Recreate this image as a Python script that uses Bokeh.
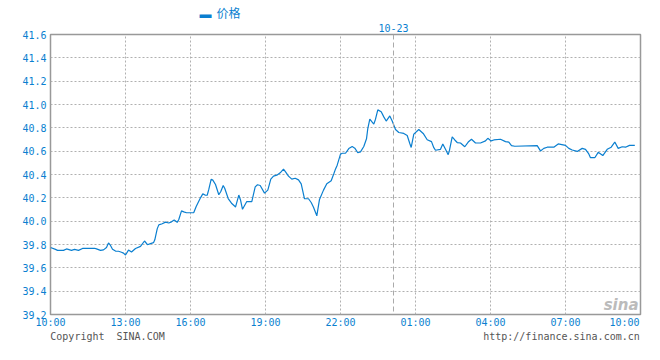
from bokeh.plotting import figure
from bokeh.models import (FixedTicker, PrintfTickFormatter, Span, Label,
                          ColumnDataSource, LinearAxis)
from bokeh.embed import file_html
from bokeh.resources import INLINE

# ---- data (x = session slot index, 10:00 .. next-day 10:00) ----
x_slot = [0, 5, 7, 13, 16, 21, 24, 28, 32, 44, 46, 50, 53, 56, 58, 60, 62, 65, 68, 71,
          73, 75, 78, 81, 85, 90, 94, 97, 100, 103, 104.3, 106.7, 108.3, 111.7, 115, 118.3,
          121, 123.7, 126.7, 128.3, 131, 133.3, 136, 143.3, 145.7, 150, 152.3, 155, 156.7,
          158.3, 160.7, 162.3, 165, 168.3, 170.3, 172.7, 174.3, 177.7, 181, 184.3, 185,
          188.3, 190, 192, 196.3, 201.3, 204.7, 207, 209.7, 214, 217.3, 220.3, 223, 226.3,
          229.7, 233, 234.7, 238, 241.3, 244.7, 248, 250.7, 254, 258, 260.7, 263, 266.3,
          269, 273, 276.3, 280.7, 283.3, 284.7, 286.7, 290, 291.7, 295, 298.3, 301.7,
          304.3, 307.3, 310, 313.3, 316, 317.3, 319.3, 321.7, 323.3, 325, 327.3, 330.7,
          333.3, 335.7, 339.3, 341.7, 345, 348.3, 353.3, 356.7, 359.3, 360.7, 363.3, 368.3,
          372.7, 376.7, 381, 383.3, 385, 390, 392.3, 395, 397.7, 399, 401.7, 404.3, 406.7,
          410, 414.3, 417.7, 421, 425, 430, 435, 437.3, 440.7, 443.3, 450, 455, 458.3, 461,
          464.3, 486.7, 490, 493.3, 496.7, 503.3, 507.7, 515, 518.3, 521.7, 526.7, 531.7,
          535, 538.3, 540, 544.3, 547.7, 552.3, 556.7, 560.7, 564.3, 567.7, 571.7, 575,
          579, 584.3]
price = [39.774, 39.758, 39.750, 39.750, 39.762, 39.750, 39.758, 39.750, 39.766, 39.768,
         39.762, 39.750, 39.754, 39.774, 39.814, 39.792, 39.760, 39.744, 39.742, 39.734,
         39.726, 39.710, 39.752, 39.736, 39.766, 39.784, 39.830, 39.798, 39.808, 39.816,
         39.840, 39.934, 39.968, 39.978, 39.992, 39.984, 39.994, 40.010, 39.990, 40.014,
         40.088, 40.080, 40.072, 40.074, 40.126, 40.200, 40.234, 40.222, 40.222, 40.272,
         40.360, 40.352, 40.314, 40.226, 40.254, 40.306, 40.280, 40.194, 40.154, 40.128,
         40.120, 40.224, 40.182, 40.102, 40.168, 40.168, 40.294, 40.312, 40.306, 40.240,
         40.266, 40.360, 40.386, 40.394, 40.414, 40.446, 40.426, 40.386, 40.360, 40.368,
         40.354, 40.320, 40.192, 40.192, 40.160, 40.120, 40.046, 40.186, 40.266, 40.320,
         40.346, 40.406, 40.440, 40.480, 40.574, 40.582, 40.582, 40.622, 40.640, 40.626,
         40.586, 40.594, 40.640, 40.706, 40.794, 40.874, 40.848, 40.832, 40.874, 40.954,
         40.938, 40.894, 40.858, 40.902, 40.858, 40.786, 40.760, 40.752, 40.734, 40.666,
         40.632, 40.746, 40.786, 40.752, 40.698, 40.682, 40.630, 40.608, 40.616, 40.662,
         40.616, 40.570, 40.608, 40.722, 40.696, 40.674, 40.670, 40.638, 40.678, 40.702,
         40.670, 40.670, 40.688, 40.710, 40.688, 40.696, 40.702, 40.682, 40.678, 40.648,
         40.642, 40.648, 40.602, 40.624, 40.634, 40.634, 40.662, 40.650, 40.624, 40.610,
         40.598, 40.624, 40.616, 40.576, 40.544, 40.544, 40.590, 40.562, 40.616, 40.634,
         40.678, 40.624, 40.638, 40.634, 40.650, 40.650]

x_ticks = [0, 75, 140, 215, 290, 365, 440, 515, 590]
x_labels = ["10:00", "13:00", "16:00", "19:00", "22:00", "01:00", "04:00", "07:00", "10:00"]
y_ticks = [39.2, 39.4, 39.6, 39.8, 40.0, 40.2, 40.4, 40.6, 40.8, 41.0, 41.2, 41.4, 41.6]
day_break = 343
day_label = "10-23"
series_name = "价格"
footer_left = "Copyright \u00a0SINA.COM"
footer_right = "http://finance.sina.com.cn"

BLUE = "#0a7fd0"
GREY_TXT = "#555555"
MONO = "DejaVu Sans Mono"
CJK = "Noto Sans CJK SC"
CHAR_W = 6.02          # px per char of 10px DejaVu Sans Mono (1 x-unit == 1 px)

p = figure(width=644, height=344, x_range=(0, 590), y_range=(39.2, 41.6),
           output_backend="svg", toolbar_location=None,
           min_border_left=50, min_border_right=4, min_border_top=0, min_border_bottom=0)
p.background_fill_color = "white"
p.border_fill_color = "white"
p.outline_line_color = "#999999"
p.outline_line_width = 1.5

src = ColumnDataSource(dict(x=x_slot, y=price))
p.line("x", "y", source=src, line_color=BLUE, line_width=1.2)


def style_axis(ax, color, standoff, font=MONO, size="10px", lh=1.0):
    ax.axis_line_color = None
    ax.major_tick_line_color = None
    ax.minor_tick_line_color = None
    ax.major_tick_out = 0
    ax.major_tick_in = 0
    ax.minor_tick_out = 0
    ax.minor_tick_in = 0
    ax.major_label_text_font = font
    ax.major_label_text_font_size = size
    ax.major_label_text_color = color
    ax.major_label_text_line_height = lh
    ax.major_label_standoff = standoff


# main x axis (last label kept inside the frame, right-aligned)
last_pos = round(x_ticks[-1] - len(x_labels[-1]) * CHAR_W / 2 - 1)
tick_pos = x_ticks[:-1] + [last_pos]
p.xaxis.ticker = FixedTicker(ticks=tick_pos)
p.xaxis.major_label_overrides = {t: l for t, l in zip(tick_pos, x_labels)}
style_axis(p.xaxis[0], BLUE, 2)

# y axis
p.yaxis.ticker = FixedTicker(ticks=y_ticks)
p.yaxis.formatter = PrintfTickFormatter(format="%.1f")
style_axis(p.yaxis[0], BLUE, 4)

# footer line as a second axis below
fl_pos = round(len(footer_left) * CHAR_W / 2)
fr_pos = round(x_ticks[-1] - len(footer_right) * CHAR_W / 2 - 1)
footer = LinearAxis(ticker=FixedTicker(ticks=[fl_pos, fr_pos]),
                    major_label_overrides={fl_pos: footer_left, fr_pos: footer_right})
style_axis(footer, GREY_TXT, 0, lh=0.9)
p.add_layout(footer, "below")

# day label axis above
top_ax = LinearAxis(ticker=FixedTicker(ticks=[day_break]),
                    major_label_overrides={day_break: day_label})
style_axis(top_ax, BLUE, 3)
p.add_layout(top_ax, "above")

# legend line (key + series name) as an outer axis above
key_pos, name_pos = 155, 178
legend_ax = LinearAxis(ticker=FixedTicker(ticks=[key_pos, name_pos]),
                       major_label_overrides={key_pos: "▬", name_pos: series_name})
style_axis(legend_ax, BLUE, 0, font=CJK, size="12px", lh=0.8)
p.add_layout(legend_ax, "above")

# grid
p.xgrid.ticker = FixedTicker(ticks=x_ticks[1:-1])
p.ygrid.ticker = FixedTicker(ticks=y_ticks[1:-1])
for g in (p.xgrid, p.ygrid):
    g.grid_line_color = "#b0b0b0"
    g.grid_line_dash = "2 2"
    g.grid_line_width = 1

# day break
p.add_layout(Span(location=day_break, dimension="height", line_color="#aaaaaa",
                  line_dash="5 3", line_width=1))

# watermark
p.add_layout(Label(x=588, y=39.2, y_offset=10, text="sina", text_align="right",
                   text_baseline="middle", text_font="DejaVu Sans", text_font_style="bold italic",
                   text_font_size="15px", text_color="#bbbbbb"))

open("out.html", "w").write(file_html(p, INLINE))
